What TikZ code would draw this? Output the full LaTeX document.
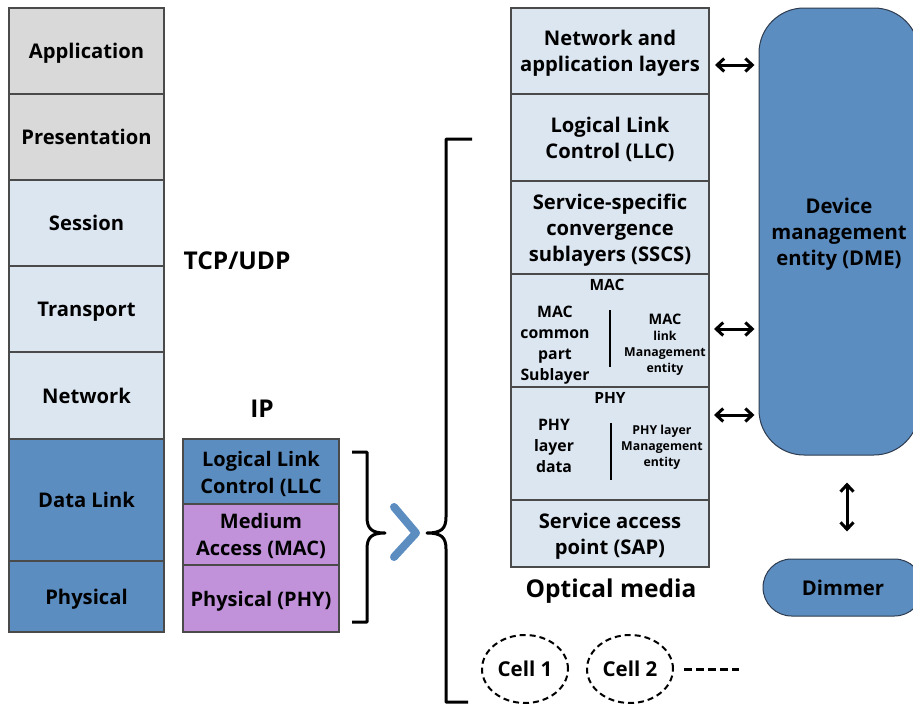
\documentclass[tikz,border=0pt]{standalone}
\usepackage{fontspec}
\setmainfont{Open Sans}
\usetikzlibrary{arrows.meta,calc,shapes.geometric}
\definecolor{layergray}{HTML}{D9D9D9}
\definecolor{layerlight}{HTML}{DCE6F1}
\definecolor{layerblue}{HTML}{5B8DC1}
\definecolor{layerpurple}{HTML}{C191DA}
\definecolor{edgegray}{HTML}{4A4A4A}
\definecolor{edgedark}{HTML}{2E3B4E}

\begin{document}
\begin{tikzpicture}[x=1pt,y=-1pt,
  layer/.style={draw=edgegray, line width=1.3pt, rectangle, inner sep=0pt, outer sep=0pt,
    align=center, text depth=0pt, font=\fontsize{20.2}{26}\selectfont\bfseries},
  osi/.style={layer, minimum width=155pt},
  ipstack/.style={layer, minimum width=156pt, font=\fontsize{20}{27}\selectfont\bfseries},
  vlc/.style={layer, minimum width=198pt, fill=layerlight},
  subtitle/.style={inner sep=0pt, text depth=0pt, font=\fontsize{15.5}{19}\selectfont\bfseries},
  subleft/.style={inner sep=0pt, align=center, text depth=0pt, font=\fontsize{15.8}{21}\selectfont\bfseries},
  subright/.style={inner sep=0pt, align=center, text depth=0pt, font=\fontsize{12.3}{16}\selectfont\bfseries},
  biglabel/.style={inner sep=0pt, text depth=0pt, font=\fontsize{24.5}{28}\selectfont\bfseries},
  entity/.style={draw=edgedark, line width=1pt, fill=layerblue, inner sep=0pt, align=center,
    text depth=0pt, font=\fontsize{20.3}{26}\selectfont\bfseries},
  cell/.style={draw, dash pattern=on 6pt off 4pt, line width=2pt, ellipse,
    minimum width=86pt, minimum height=68pt, inner sep=0pt, text depth=0pt,
    font=\fontsize{20.5}{23}\selectfont\bfseries},
  link/.style={{Straight Barb[length=7pt,width=13pt,line width=3pt]}-{Straight Barb[length=7pt,width=13pt,line width=3pt]}, line width=3pt},
  brace/.style={draw, line width=3pt, line join=round}
]
\useasboundingbox (0,0) rectangle (913,704);
\clip (0,0) rectangle (913,704);

% OSI reference stack
\node[osi, fill=layergray,  minimum height=86pt]  (app)  at (86.5,51)    {Application};
\node[osi, fill=layergray,  minimum height=86pt]  (pres) at (86.5,137)   {Presentation};
\node[osi, fill=layerlight, minimum height=86pt]  (sess) at (86.5,223)   {Session};
\node[osi, fill=layerlight, minimum height=86pt]  (trans) at (86.5,309)  {Transport};
\node[osi, fill=layerlight, minimum height=87pt]  (net)  at (86.5,395.5) {Network};
\node[osi, fill=layerblue,  minimum height=122pt] (dl)   at (86.5,500)   {Data Link};
\node[osi, fill=layerblue,  minimum height=71pt]  (phys) at (86.5,596.5) {Physical};

% Protocol labels
\node[biglabel] (tcp) at (237,261) {TCP/UDP};
\node[biglabel] (ip)  at (262,409) {IP};

% IEEE 802 lower layers
\node[ipstack, fill=layerblue,   minimum height=66pt] (llc) at (261,472)   {Logical Link\\Control (LLC};
\node[ipstack, fill=layerpurple, minimum height=61pt] (mac) at (261,534.5) {Medium\\Access (MAC)};
\node[ipstack, fill=layerpurple, minimum height=67pt] (phy) at (261,598.5) {Physical (PHY)};

% Brackets and expansion mark
\draw[brace] (352,452) -- (367,452) -- (367,517)
  .. controls (367,529) and (372,533) .. (385,533)
  .. controls (372,533) and (367,537) .. (367,549) -- (367,622) -- (352,622);
\draw[layerblue, line width=8pt, line cap=round, line join=round]
  (394,507) -- (416,533) -- (394,557);
\draw[brace] (472,139) -- (446,139) -- (446,517)
  .. controls (446,529) and (441,533) .. (427,533)
  .. controls (441,533) and (446,537) .. (446,549) -- (446,702) -- (468,702);

% VLC stack
\node[vlc, minimum height=86pt]  (nal)  at (610,51)    {Network and\\application layers};
\node[vlc, minimum height=87pt]  (vllc) at (610,137.5) {Logical Link\\Control (LLC)};
\node[vlc, minimum height=93pt]  (sscs) at (610,227.5) {Service-specific\\convergence\\sublayers (SSCS)};
\node[vlc, minimum height=113pt] (vmac) at (610,330.5) {};
\node[vlc, minimum height=113pt] (vphy) at (610,443.5) {};
\node[vlc, minimum height=67pt]  (sap)  at (610,533.5) {Service access\\point (SAP)};

% MAC sublayer content
\node[subtitle] (mact) at (607,285) {MAC};
\node[subleft]  (macl) at (555,343.5) {MAC\\common\\part\\Sublayer};
\node[subright] (macr) at (665,343) {{\fontsize{14.5}{16}\selectfont MAC}\\link\\Management\\entity};
\draw[line width=1.5pt] (610,310) -- (610,367);

% PHY sublayer content
\node[subtitle] (phyt) at (610,398) {PHY};
\node[subleft]  (phyl) at (554,446) {PHY\\layer\\data};
\node[subright] (phyr) at (662,446) {PHY layer\\Management\\entity};
\draw[line width=1.5pt] (611,423) -- (611,480);

% Media label and cells
\node[biglabel] (media) at (611,588) {Optical media};
\node[cell] (cell1) at (525,669) {Cell 1};
\node[cell] (cell2) at (630,669) {Cell 2};
\draw[line width=3pt, dash pattern=on 8pt off 4pt] ($(cell2.east)+(10,0)$) -- ++(55,0);

% Management entity and dimmer
\node[entity, rounded corners=45pt, minimum width=160pt, minimum height=447pt] (dme) at (839,231.5)
  {Device\\management\\entity (DME)};
\node[entity, rounded corners=28.5pt, minimum width=160pt, minimum height=57pt] (dimmer) at (843,587.5)
  {Dimmer};

% Management links
\draw[link] ($(nal.east)+(6,14)$) -- ($(nal.east -| dme.west)+(-4,14)$);
\draw[link] ($(vmac.east)+(5,-1.5)$) -- ($(vmac.east -| dme.west)+(-4,-1.5)$);
\draw[link] ($(vphy.north east)+(5,28)$) -- ($(vphy.north east -| dme.west)+(-4,28)$);
\draw[link] ($(dme.south)+(8,27)$) -- ($(dimmer.north)+(4,-27)$);
\end{tikzpicture}
\end{document}
